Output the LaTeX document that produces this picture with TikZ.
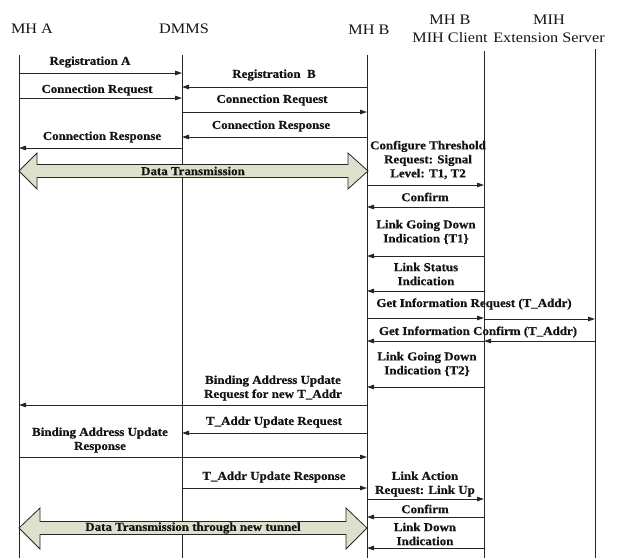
\documentclass[tikz,border=0pt]{standalone}
\usepackage{fontspec}
\setmainfont{Liberation Serif}[FakeStretch=1.12]
\newfontfamily\lblfont{Liberation Serif}[FakeStretch=1.07, BoldFeatures={FakeBold=0.6}]
\usetikzlibrary{arrows.meta}
\definecolor{linecol}{HTML}{262626}
\definecolor{txtcol}{HTML}{141414}
\definecolor{dtfill}{HTML}{DDE1CB}
\begin{document}
\begin{tikzpicture}[x=1pt,y=-1pt,
 life/.style={draw=linecol, line width=0.9pt},
 msg/.style={draw=linecol, line width=0.8pt, -{Triangle[length=7pt,width=4.5pt]}},
 lbl/.style={font=\lblfont\bfseries\fontsize{12.1}{14}\selectfont, align=center, inner sep=0pt, text=txtcol},
 hdr/.style={font=\fontsize{14.5}{18}\selectfont, align=center, inner sep=0pt, text=txtcol},
 bigarrow/.style={draw=linecol, line width=0.8pt, fill=dtfill}]
\useasboundingbox (0,0) rectangle (619,558);

% headers
\node[hdr] (hA) at (32,29) {MH A};
\node[hdr] (hD) at (184,29) {DMMS};
\node[hdr] (hB) at (369,30) {MH B};
\node[hdr] (hC) at (450,29) {MH B\\MIH Client};
\node[hdr] (hS) at (549,29) {MIH\\Extension Server};

% lifelines
\coordinate (tA) at (19,55);  \coordinate (bA) at (19,558);
\coordinate (tD) at (182,55); \coordinate (bD) at (182,558);
\coordinate (tB) at (367,55); \coordinate (bB) at (367,558);
\coordinate (tC) at (484,51); \coordinate (bC) at (484,558);
\coordinate (tS) at (595,49); \coordinate (bS) at (595,558);
\draw[life] (tA) -- (bA);
\draw[life] (tD) -- (bD);
\draw[life] (tB) -- (bB);
\draw[life] (tC) -- (bC);
\draw[life] (tS) -- (bS);

% Registration A
\node[lbl] (l1) at (90,62) {Registration A};
\coordinate (m1a) at (19,73); \coordinate (m1b) at (182,73);
\draw[msg] (m1a) -- (m1b);
% Registration B
\node[lbl] (l2) at (274,75) {Registration~~B};
\coordinate (m2a) at (367,87); \coordinate (m2b) at (182,87);
\draw[msg] (m2a) -- (m2b);
% Connection Request left
\node[lbl] (l3) at (97,90) {Connection Request};
\coordinate (m3a) at (19,98); \coordinate (m3b) at (182,98);
\draw[msg] (m3a) -- (m3b);
% Connection Request right
\node[lbl] (l4) at (272,100) {Connection Request};
\coordinate (m4a) at (182,112); \coordinate (m4b) at (367,112);
\draw[msg] (m4a) -- (m4b);
% Connection Response right
\node[lbl] (l5) at (271,126) {Connection Response};
\coordinate (m5a) at (367,137); \coordinate (m5b) at (182,137);
\draw[msg] (m5a) -- (m5b);
% Connection Response left
\node[lbl] (l6) at (102,137) {Connection Response};
\coordinate (m6a) at (182,148); \coordinate (m6b) at (19,148);
\draw[msg] (m6a) -- (m6b);

% Data Transmission
\draw[bigarrow] (19,171) -- (37,153) -- (37,164.5) -- (348,164.5) -- (348,153)
  -- (368,171) -- (348,189) -- (348,177.5) -- (37,177.5) -- (37,189) -- cycle;
\node[lbl] (l7) at (193,171) {Data Transmission};

% Configure Threshold
\node[lbl] (l8) at (428,160) {Configure Threshold\\Request: Signal\\Level: T1, T2};
\coordinate (m8a) at (367,185); \coordinate (m8b) at (484,185);
\draw[msg] (m8a) -- (m8b);
% Confirm
\node[lbl] (l9) at (425,197) {Confirm};
\coordinate (m9a) at (484,207); \coordinate (m9b) at (367,207);
\draw[msg] (m9a) -- (m9b);
% Link Going Down T1
\node[lbl] (l10) at (426,232) {Link Going Down\\Indication \{T1\}};
\coordinate (m10a) at (484,256); \coordinate (m10b) at (367,256);
\draw[msg] (m10a) -- (m10b);
% Link Status Indication
\node[lbl] (l11) at (426,274) {Link Status\\Indication};
\coordinate (m11a) at (484,291); \coordinate (m11b) at (367,291);
\draw[msg] (m11a) -- (m11b);
% Get Information Request
\node[lbl] (l12) at (474,304) {Get Information Request (T\_Addr)};
\coordinate (m12a) at (367,318); \coordinate (m12b) at (484,318);
\coordinate (m12c) at (484,319); \coordinate (m12d) at (595,319);
\draw[msg] (m12a) -- (m12b);
\draw[msg] (m12c) -- (m12d);
% Get Information Confirm
\node[lbl] (l13) at (478,332) {Get Information Confirm (T\_Addr)};
\coordinate (m13a) at (595,341); \coordinate (m13b) at (484,341);
\coordinate (m13c) at (484,341); \coordinate (m13d) at (367,341);
\draw[msg] (m13a) -- (m13b);
\draw[msg] (m13c) -- (m13d);
% Link Going Down T2
\node[lbl] (l14) at (427,364) {Link Going Down\\Indication \{T2\}};
\coordinate (m14a) at (484,387); \coordinate (m14b) at (367,387);
\draw[msg] (m14a) -- (m14b);
% Binding Address Update Request
\node[lbl] (l15) at (273,388) {Binding Address Update\\Request for new T\_Addr};
\coordinate (m15a) at (367,405); \coordinate (m15b) at (19,405);
\draw[msg] (m15a) -- (m15b);
% T_Addr Update Request
\node[lbl] (l16) at (274,422) {T\_Addr Update Request};
\coordinate (m16a) at (367,433); \coordinate (m16b) at (182,433);
\draw[msg] (m16a) -- (m16b);
% Binding Address Update Response
\node[lbl] (l17) at (100,440) {Binding Address Update\\Response};
\coordinate (m17a) at (19,457); \coordinate (m17b) at (367,457);
\draw[msg] (m17a) -- (m17b);
% T_Addr Update Response
\node[lbl] (l18) at (274,477) {T\_Addr Update Response};
\coordinate (m18a) at (182,488); \coordinate (m18b) at (367,488);
\draw[msg] (m18a) -- (m18b);
% Link Action Request
\node[lbl] (l19) at (425,484) {Link Action\\Request: Link Up};
\coordinate (m19a) at (367,499); \coordinate (m19b) at (484,499);
\draw[msg] (m19a) -- (m19b);
% Confirm 2
\node[lbl] (l20) at (425,509) {Confirm};
\coordinate (m20a) at (484,517); \coordinate (m20b) at (367,517);
\draw[msg] (m20a) -- (m20b);
% Link Down Indication
\node[lbl] (l21) at (425,534) {Link Down\\Indication};
\coordinate (m21a) at (484,548); \coordinate (m21b) at (367,548);
\draw[msg] (m21a) -- (m21b);

% Data Transmission through new tunnel
\draw[bigarrow] (19,528) -- (40,508) -- (40,521.5) -- (346,521.5) -- (346,508)
  -- (367,528) -- (346,549) -- (346,534.5) -- (40,534.5) -- (40,549) -- cycle;
\node[lbl] (l22) at (193,528) {Data Transmission through new tunnel};
\end{tikzpicture}
\end{document}
